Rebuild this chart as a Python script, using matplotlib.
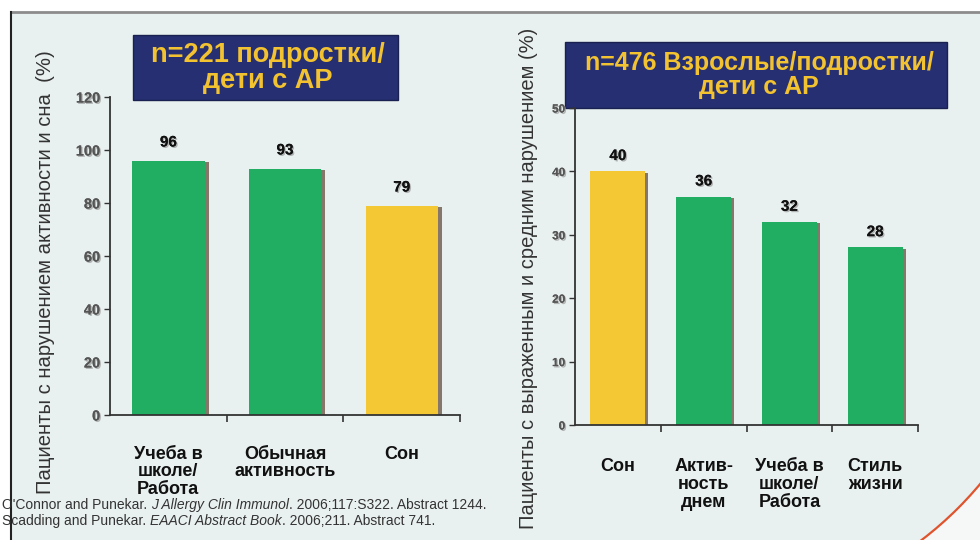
import matplotlib
matplotlib.use("Agg")
import matplotlib.pyplot as plt
import matplotlib.patheffects as pe
import numpy as np
from matplotlib.patches import Rectangle, Arc, Polygon

plt.rcParams["font.family"] = ["Liberation Sans", "DejaVu Sans"]

# data
left_title = "n=221 подростки/\nдети с АР"
left_ylabel = "Пациенты с нарушением активности и сна  (%)"
left_categories = ["Учеба в\nшколе/\nРабота", "Обычная\nактивность", "Сон"]
left_values = [96, 93, 79]
left_yticks = [0, 20, 40, 60, 80, 100, 120]

right_title = "n=476 Взрослые/подростки/\nдети с АР"
right_ylabel = "Пациенты с выраженным и средним нарушением (%)"
right_categories = ["Сон", "Актив-\nность\nднем", "Учеба в\nшколе/\nРабота", "Стиль\nжизни"]
right_values = [40, 36, 32, 28]
right_yticks = [0, 10, 20, 30, 40, 50]

footnotes = [
    [("O'Connor and Punekar. ", "normal"), ("J Allergy Clin Immunol", "italic"),
     (". 2006;117:S322. Abstract 1244.", "normal")],
    [("Scadding and Punekar. ", "normal"), ("EAACI Abstract Book", "italic"),
     (". 2006;211. Abstract 741.", "normal")],
]

GREEN = "#22ae62"
YELLOW = "#f3c834"
SHADOW = "#85786a"
NAVY = "#262f72"
GOLD = "#f2c230"
BG = "#e9f1f0"

W, H = 980, 540
fig = plt.figure(figsize=(W / 100, H / 100), dpi=100, facecolor=BG)

# decoration layer in pixel coordinates
bg = fig.add_axes([0, 0, 1, 1], zorder=-10)
bg.set_xlim(0, W)
bg.set_ylim(H, 0)
bg.axis("off")
bg.add_patch(Rectangle((0, 0), W, 12, facecolor="white", edgecolor="none"))
bg.add_patch(Rectangle((0, 0), 11, H, facecolor="white", edgecolor="none"))
bg.plot([11, W], [12, 12], color="#8c8c8c", lw=2)
bg.plot([11, 11], [12, H], color="#222222", lw=1.5)

# lighter corner outside the red circle, bottom right
ang = np.radians(np.linspace(30, 60, 60))
arc_x = 700 + 365 * np.cos(ang)
arc_y = 250 + 365 * np.sin(ang)
corner = np.column_stack([np.append(arc_x, [W + 50, W + 50]),
                          np.append(arc_y, [H + 50, 200])])
bg.add_patch(Polygon(corner, closed=True, facecolor="#f6f8f8", edgecolor="none"))
bg.add_patch(Arc((700, 250), 730, 730, theta1=30, theta2=60, color="#e0532c", lw=1.6))

shadow_txt = [pe.withSimplePatchShadow(offset=(1, -1), shadow_rgbFace="#999999", alpha=0.7),
              pe.Normal()]


def px_rect(x0, y0, x1, y1):
    return [x0 / W, 1 - y1 / H, (x1 - x0) / W, (y1 - y0) / H]


def draw_panel(rect, categories, values, yticks, bar_w, tick_fs, lab_off, pad):
    ax = fig.add_axes(rect)
    ax.patch.set_alpha(0)
    x = list(range(len(categories)))
    colors = [YELLOW if c == "Сон" else GREEN for c in categories]
    ax.bar([i + 0.035 for i in x], [v - 0.4 * yticks[1] / 20 for v in values],
           width=bar_w, color=SHADOW, zorder=1)
    ax.bar(x, values, width=bar_w, color=colors, zorder=2)
    for i, v in zip(x, values):
        ax.annotate(str(v), (i, v), xytext=(0, lab_off), textcoords="offset points",
                    ha="center", va="bottom", fontsize=11, fontweight="bold",
                    color="#111111", path_effects=shadow_txt)
    ax.set_xlim(-0.5, len(categories) - 0.5)
    ax.set_ylim(0, yticks[-1])
    ax.set_yticks(yticks)
    ax.set_xticks(x)
    ax.set_xticklabels(categories, fontsize=13, fontweight="bold", color="#111111",
                       linespacing=1.05)
    ax.set_xticks([i + 0.5 for i in x], minor=True)
    ax.tick_params(axis="x", which="major", length=0, pad=pad)
    ax.tick_params(axis="x", which="minor", length=5, width=1.2, color="#333333")
    ax.tick_params(axis="y", length=4, width=1, color="#333333", pad=3,
                   labelsize=tick_fs, labelcolor="#555555")
    for t in ax.get_yticklabels():
        t.set_fontweight("bold")
        t.set_path_effects(shadow_txt)
    for s in ("top", "right"):
        ax.spines[s].set_visible(False)
    for s in ("left", "bottom"):
        ax.spines[s].set_color("#333333")
        ax.spines[s].set_linewidth(1.3)
    return ax


draw_panel(px_rect(110, 97, 460, 415), left_categories, left_values, left_yticks,
           0.62, 10.5, 8, 22)
draw_panel(px_rect(575, 108, 918, 425), right_categories, right_values, right_yticks,
           0.64, 8.5, 6, 24)

# title boxes
bg.add_patch(Rectangle((133, 35), 265, 65, facecolor=NAVY, edgecolor="#1a2050", zorder=3))
bg.text(268, 68, left_title, ha="center", va="center", fontsize=19.5, fontweight="bold",
        color=GOLD, linespacing=1.0, zorder=4)
bg.add_patch(Rectangle((565, 42), 382, 66, facecolor=NAVY, edgecolor="#1a2050", zorder=3))
bg.text(759, 75, right_title, ha="center", va="center", fontsize=18, fontweight="bold",
        color=GOLD, linespacing=1.0, zorder=4)

# y labels
bg.text(46, 272, left_ylabel, rotation=90, ha="center", va="center", fontsize=14.6,
        color="#333333")
bg.text(528, 278, right_ylabel, rotation=90, ha="center", va="center", fontsize=14.5,
        color="#333333")

# footnotes with italic journal names
renderer = fig.canvas.get_renderer()
for row, y in zip(footnotes, [505, 521]):
    xpos = 2
    for txt, style in row:
        t = bg.text(xpos, y, txt, ha="left", va="center", fontsize=10, style=style,
                    color="#333333", zorder=5)
        ext = t.get_window_extent(renderer=renderer)
        xpos += ext.width

fig.savefig("out.png", dpi=100, facecolor=BG)
